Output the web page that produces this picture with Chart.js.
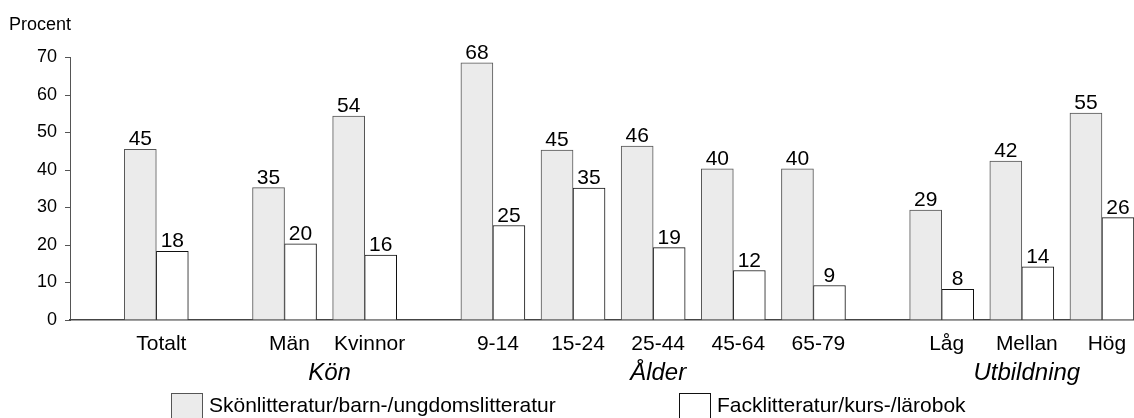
<!DOCTYPE html>
<html>
<head>
<meta charset="utf-8">
<script src="https://cdn.jsdelivr.net/npm/chart.js@4.4.0/dist/chart.umd.min.js"></script>
<style>
  html, body { margin: 0; padding: 0; background: #fff; }
  #wrap { position: relative; width: 1134px; height: 418px; overflow: hidden; }
  #myChart { position: absolute; left: 0; top: 0; }
  #legend { position: absolute; left: 0; top: 393px; width: 1134px; height: 30px;
            font-family: 'Liberation Sans', Arial, sans-serif; font-size: 21px; color: #000; }
  .item { position: absolute; top: 0; display: flex; align-items: flex-start; }
  .box { width: 32px; height: 27px; box-sizing: border-box; border: 1px solid #555; margin-right: 6px; }
  .txt { line-height: 21px; margin-top: 1px; white-space: nowrap; }
</style>
</head>
<body>
<div id="wrap">
  <canvas id="myChart" width="1134" height="418"></canvas>
  <div id="legend"></div>
</div>
<script>
// categories, in the order they sit on the axis
var categories = ['Totalt', 'Män', 'Kvinnor', '9-14', '15-24', '25-44', '45-64', '65-79', 'Låg', 'Mellan', 'Hög'];
var groupNames = ['', 'Kön', 'Ålder', 'Utbildning'];
var groupSizes = [1, 2, 5, 3];

var seriesNames = ['Skönlitteratur/barn-/ungdomslitteratur', 'Facklitteratur/kurs-/lärobok'];

// bar heights as drawn
var fiction = [45.5, 35.3, 54.4, 68.6, 45.3, 46.4, 40.3, 40.3, 29.3, 42.4, 55.2];
var fact = [18.3, 20.3, 17.3, 25.2, 35.2, 19.3, 13.2, 9.2, 8.2, 14.2, 27.3];

// numbers printed above the bars
var fictionText = ['45', '35', '54', '68', '45', '46', '40', '40', '29', '42', '55'];
var factText = ['18', '20', '16', '25', '35', '19', '12', '9', '8', '14', '26'];

var yTitle = 'Procent';

var fontFamily = "'Liberation Sans', Arial, sans-serif";
Chart.defaults.font.family = fontFamily;
Chart.defaults.color = '#000';

// place categories: one slot each, a smaller gap between groups
var groupGap = 0.6;
var positions = [];
var groupCenters = [];
var pos = 0;
for (var g = 0; g < groupSizes.length; g++) {
    var first = pos;
    for (var k = 0; k < groupSizes[g]; k++) {
        positions.push(pos);
        pos += 1;
    }
    groupCenters.push((first + pos - 1) / 2);
    pos += groupGap;
}
var namedGroups = [];
var namedCenters = [];
for (var g = 0; g < groupNames.length; g++) {
    if (groupNames[g] !== '') {
        namedGroups.push(groupNames[g]);
        namedCenters.push(groupCenters[g]);
    }
}

function points(values) {
    return values.map(function (v, i) { return {x: positions[i], y: v}; });
}

var valueLabels = {
    id: 'valueLabels',
    afterDatasetsDraw: function (chart) {
        var ctx = chart.ctx;
        ctx.save();
        ctx.font = '21px ' + fontFamily;
        ctx.fillStyle = '#000';
        ctx.textAlign = 'center';
        ctx.textBaseline = 'alphabetic';
        chart.data.datasets.forEach(function (ds, d) {
            var meta = chart.getDatasetMeta(d);
            meta.data.forEach(function (bar, i) {
                ctx.fillText(ds.valueText[i], bar.x, bar.y - 4);
            });
        });
        ctx.restore();
    }
};

var ctx = document.getElementById('myChart').getContext('2d');
var myChart = new Chart(ctx, {
    type: 'bar',
    data: {
        datasets: [{
            label: seriesNames[0],
            data: points(fiction),
            valueText: fictionText,
            backgroundColor: '#ebebeb',
            borderColor: '#555',
            borderWidth: 1,
            barThickness: 32
        }, {
            label: seriesNames[1],
            data: points(fact),
            valueText: factText,
            backgroundColor: '#ffffff',
            borderColor: '#111',
            borderWidth: 1,
            barThickness: 32
        }]
    },
    options: {
        responsive: false,
        animation: false,
        layout: {padding: {left: 9, right: 0, top: 0, bottom: 20}},
        plugins: {
            legend: {display: false},
            tooltip: {enabled: false},
            title: {
                display: true,
                text: yTitle,
                align: 'start',
                font: {size: 18, weight: 'normal'},
                padding: {top: 14.5, bottom: 21.4}
            }
        },
        scales: {
            y: {
                min: 0,
                max: 70,
                ticks: {stepSize: 10, padding: 8, font: {size: 18}},
                grid: {drawOnChartArea: false, drawTicks: true, tickLength: 5, color: '#555'},
                border: {color: '#555', width: 1},
                afterFit: function (scale) { scale.width = 61; }
            },
            x: {
                type: 'linear',
                position: 'bottom',
                min: -1.077,
                max: 12.2,
                offset: false,
                weight: 0,
                grid: {display: false, drawTicks: false},
                border: {display: true, color: '#444', width: 1.5},
                ticks: {
                    autoSkip: false,
                    maxRotation: 0,
                    padding: 12,
                    labelOffset: 5,
                    font: {size: 21},
                    callback: function (value, index) { return categories[index]; }
                },
                afterBuildTicks: function (scale) {
                    scale.ticks = positions.map(function (v) { return {value: v}; });
                },
                afterFit: function (scale) { scale.height = 38; }
            },
            x2: {
                type: 'linear',
                position: 'bottom',
                axis: 'x',
                min: -1.077,
                max: 12.2,
                offset: false,
                weight: 1,
                grid: {display: false, drawTicks: false},
                border: {display: false},
                ticks: {
                    autoSkip: false,
                    maxRotation: 0,
                    padding: 1,
                    labelOffset: 5,
                    font: {size: 24, style: 'italic'},
                    callback: function (value, index) { return namedGroups[index]; }
                },
                afterBuildTicks: function (scale) {
                    scale.ticks = namedCenters.map(function (v) { return {value: v}; });
                },
                afterFit: function (scale) { scale.height = 40; }
            }
        }
    },
    plugins: [valueLabels]
});

// legend below the chart
var legendLeft = [171, 679];
var legendEl = document.getElementById('legend');
myChart.data.datasets.forEach(function (ds, i) {
    var item = document.createElement('div');
    item.className = 'item';
    item.style.left = legendLeft[i] + 'px';
    var box = document.createElement('span');
    box.className = 'box';
    box.style.background = ds.backgroundColor;
    box.style.borderColor = ds.borderColor;
    var txt = document.createElement('span');
    txt.className = 'txt';
    txt.textContent = ds.label;
    item.appendChild(box);
    item.appendChild(txt);
    legendEl.appendChild(item);
});
</script>
</body>
</html>
